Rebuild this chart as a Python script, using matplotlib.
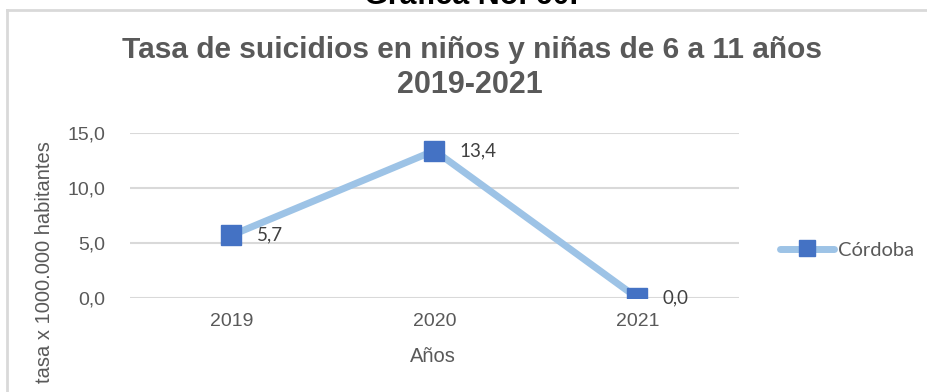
import matplotlib
matplotlib.use("Agg")
import matplotlib.pyplot as plt
from matplotlib.lines import Line2D

years = ["2019", "2020", "2021"]
values = [5.7, 13.4, 0.0]
value_labels = ["5,7", "13,4", "0,0"]
yticks = [0, 5, 10, 15]
ytick_labels = ["0,0", "5,0", "10,0", "15,0"]
series_name = "Córdoba"

W, H = 928, 392
fig = plt.figure(figsize=(W / 100, H / 100), dpi=100)
fig.patch.set_facecolor("white")

def fx(px):
    return px / W

def fy(py):
    return 1 - py / H

ax = fig.add_axes([fx(130), fy(298), fx(739) - fx(130), fy(133) - fy(298)])
x = list(range(len(years)))
line_col = "#9DC3E6"
mark_col = "#4472C4"
ax.plot(x, values, color=line_col, lw=5, solid_capstyle="round", zorder=3,
        marker="s", markersize=14, markerfacecolor=mark_col, markeredgecolor=mark_col)
for xi, v, lab in zip(x, values, value_labels):
    ax.annotate(lab, (xi, v), xytext=(18, 0), textcoords="offset points",
                va="center", ha="left", fontsize=13.5, family="Lato", color="#404040", zorder=4)

ax.set_xlim(-0.5, len(years) - 0.5)
ax.set_ylim(0, 15)
ax.set_yticks(yticks)
ax.set_yticklabels(ytick_labels)
ax.set_xticks(x)
ax.set_xticklabels(years)
ax.grid(axis="y", color="#D9D9D9", lw=1.5)
ax.set_axisbelow(True)
for s in ax.spines.values():
    s.set_visible(False)
ax.tick_params(axis="both", length=0, labelsize=14, labelcolor="#595959")
ax.tick_params(axis="y", pad=18)
ax.tick_params(axis="x", pad=11)
for lab in ax.get_xticklabels() + ax.get_yticklabels():
    lab.set_family("Liberation Sans")

fig.text(fx(433), fy(357), "Años", ha="center", va="center", fontsize=14.5,
         family="Liberation Sans", color="#595959")
fig.text(fx(45), fy(141), "tasa x 1000.000 habitantes", rotation=90, ha="center", va="top",
         fontsize=14.5, family="Liberation Sans", color="#595959")

fig.text(fx(472), fy(50), "Tasa de suicidios en niños y niñas de 6 a 11 años", ha="center",
         va="center", fontsize=21.5, fontweight="bold", family="Liberation Sans", color="#595959")
fig.text(fx(470), fy(85), "2019-2021", ha="center", va="center", fontsize=22,
         fontweight="bold", family="Liberation Sans", color="#595959")

fig.text(fx(471), fy(4), "Gráfica No. 60.", ha="center", va="baseline", fontsize=22,
         fontweight="bold", family="Liberation Sans", color="black")

# chart frame
fig.add_artist(Line2D([fx(7), fx(7)], [fy(10), 0], transform=fig.transFigure, color="#D9D9D9", lw=2))
fig.add_artist(Line2D([fx(7), 1], [fy(10), fy(10)], transform=fig.transFigure, color="#D9D9D9", lw=2))

handle = Line2D([], [], color=line_col, lw=5, marker="s", markersize=11,
                markerfacecolor=mark_col, markeredgecolor=mark_col, solid_capstyle="round")
leg = fig.legend([handle], [series_name], loc="center left", bbox_to_anchor=(fx(772), fy(250)),
                 frameon=False, handlelength=2.7, handletextpad=0.2, borderaxespad=0,
                 prop={"family": "Lato", "size": 14.5})
for t in leg.get_texts():
    t.set_color("#595959")

fig.savefig("out.png", dpi=100, facecolor="white")
